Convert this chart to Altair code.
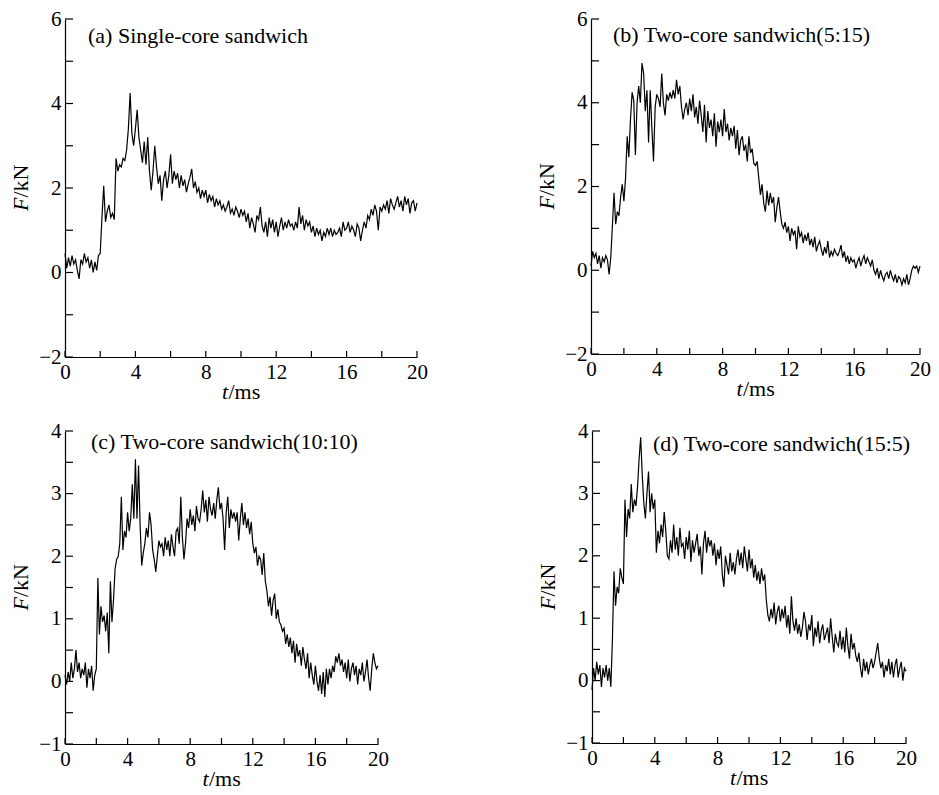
import altair as alt
import pandas as pd

SERIF = "Liberation Serif"
T_STEP = 0.1  # ms between samples

X_LABELS = [0, 4, 8, 12, 16, 20]
X_TICKS = [0, 2, 4, 6, 8, 10, 12, 14, 16, 18, 20]

TITLES = ["(a) Single-core sandwich", "(b) Two-core sandwich(5:15)",
          "(c) Two-core sandwich(10:10)", "(d) Two-core sandwich(15:5)"]

Y_LABELS_AB = [-2, 0, 2, 4, 6]
Y_TICKS_AB = [-2, -1, 0, 1, 2, 3, 4, 5, 6]
Y_LABELS_CD = [-1, 0, 1, 2, 3, 4]
Y_TICKS_CD = [-1, -0.5, 0, 0.5, 1, 1.5, 2, 2.5, 3, 3.5, 4]

# F (kN) sampled every 0.1 ms from t = 0 to 20 ms
F_A = [0.45, 0.1, 0.35, 0.15, 0.4, 0.2, 0.3, 0.05, -0.15, 0.3,
       0.2, 0.45, 0.25, 0.35, 0.1, 0.3, 0.0, 0.25, 0.05, 0.4,
       0.45, 1.3, 2.05, 1.2, 1.45, 1.6, 1.3, 1.4, 1.25, 2.7,
       2.4, 2.55, 2.5, 2.7, 2.65, 2.9, 3.4, 4.25, 3.3, 3.0,
       3.4, 3.85, 3.2, 2.9, 2.6, 3.1, 2.55, 3.2, 2.4, 1.95,
       2.4, 3.0, 2.5, 2.1, 2.3, 1.7, 2.2, 2.4, 2.0, 2.3,
       2.8, 2.1, 2.4, 2.2, 2.35, 2.0, 2.3, 2.05, 2.2, 1.9,
       2.1, 2.25, 2.45, 2.0, 2.15, 1.9, 2.0, 1.75, 1.95, 1.8,
       1.95, 1.65, 1.85, 1.7, 1.8, 1.55, 1.75, 1.6, 1.7, 1.5,
       1.6, 1.45, 1.55, 1.7, 1.4, 1.5, 1.35, 1.55, 1.45, 1.3,
       1.5, 1.35, 1.45, 1.2, 1.4, 1.05, 1.3, 1.15, 0.95, 1.35,
       1.25, 1.55, 1.1, 0.95, 1.2, 0.85, 1.3, 1.05, 1.25, 0.95,
       1.2, 0.85, 1.1, 1.3, 1.0, 1.2, 1.05, 1.25, 1.1, 1.15,
       1.0, 1.2, 1.05, 1.55, 1.15, 1.35, 1.0, 1.25, 1.1, 1.2,
       0.95, 1.1, 0.85, 1.05, 0.9, 1.0, 0.75, 0.95, 0.85, 1.05,
       0.9, 1.05, 0.85, 1.0, 0.9, 0.95, 1.05, 0.85, 1.2, 1.0,
       1.05, 1.2, 0.95, 1.1, 1.0, 0.85, 1.15, 1.05, 0.75, 1.0,
       1.2, 1.05, 1.35, 1.25, 1.5, 1.35, 1.6, 1.45, 1.0, 1.55,
       1.45, 1.6, 1.5, 1.7, 1.4, 1.75, 1.6, 1.5, 1.65, 1.8,
       1.55, 1.7, 1.45, 1.8, 1.6, 1.75, 1.4, 1.65, 1.7, 1.45,
       1.65]

F_B = [0.1, 0.45, 0.3, 0.4, 0.15, 0.35, 0.05, 0.3, 0.2, 0.35,
       0.25, -0.1, 0.3, 1.05, 1.85, 1.1, 1.4, 1.3, 1.75, 2.05,
       1.65, 2.2, 3.2, 2.7, 3.6, 4.25, 4.05, 2.75, 4.0, 4.4,
       4.0, 4.95, 4.7, 3.8, 4.3, 3.05, 4.3, 3.4, 2.6, 3.9,
       4.2, 4.1, 3.9, 4.7, 4.0, 3.7, 4.2, 4.05, 4.25, 4.1,
       4.3, 4.1, 4.55, 4.2, 4.4, 3.9, 3.6, 3.85, 4.0, 3.7,
       4.1, 3.8, 4.2, 3.65, 3.9, 3.5, 4.05, 3.7, 3.3, 3.95,
       3.05, 3.8, 3.4, 3.6, 3.2, 3.75, 2.95, 3.55, 3.3, 3.6,
       3.2, 3.85, 3.3, 3.5, 3.1, 3.4, 3.2, 3.45, 2.9, 3.35,
       2.75, 3.1, 3.2, 2.85, 3.0, 2.6, 3.2, 2.8, 2.9, 2.55,
       2.5, 2.6, 2.2, 1.8, 2.05, 1.6, 1.4, 1.9, 1.55, 1.85,
       1.6, 1.75, 1.15, 1.5, 1.75, 1.4, 1.1, 1.0, 1.15, 0.9,
       1.05, 0.7, 1.0, 0.85, 0.95, 0.5, 1.05, 0.8, 0.9, 0.65,
       0.85, 0.7, 0.9, 0.6, 0.75, 0.55, 0.8, 0.45, 0.6, 0.7,
       0.5, 0.35, 0.55, 0.4, 0.7, 0.3, 0.45, 0.35, 0.5, 0.4,
       0.35, 0.45, 0.6, 0.3, 0.45, 0.2, 0.35, 0.15, 0.3, 0.2,
       0.25, 0.05, 0.2, 0.3, 0.1, 0.25, 0.35, 0.15, 0.3, 0.2,
       0.1, 0.25, 0.0, -0.1, 0.05, -0.2, 0.0, -0.15, -0.25, -0.1,
       -0.05, -0.2, 0.0, -0.15, -0.25, -0.1, -0.3, -0.15, -0.2, -0.35,
       -0.2, -0.3, -0.1, -0.35, -0.2, 0.0, 0.1, 0.05, 0.1, -0.05,
       0.1]

F_C = [0.1, -0.05, 0.15, 0.0, 0.3, 0.05, 0.2, 0.5, 0.15, 0.3,
       0.05, 0.2, 0.1, 0.3, -0.1, 0.2, 0.05, 0.25, -0.15, 0.1,
       0.2, 1.65, 0.75, 1.2, 0.95, 1.05, 0.8, 1.1, 0.45, 1.6,
       0.95, 1.3, 1.8, 1.95, 2.0, 2.2, 2.95, 2.1, 2.4, 2.3,
       2.7, 2.4, 2.6, 3.15, 2.6, 3.55, 2.6, 3.45, 2.5, 1.85,
       2.05, 2.2, 2.45, 2.3, 2.7, 2.5, 2.1, 1.95, 1.75, 2.0,
       2.25, 2.15, 2.2, 2.0, 2.3, 2.1, 2.25, 2.0, 2.35, 2.15,
       2.0, 2.4, 2.45, 2.2, 2.95, 2.3, 1.95, 2.2, 2.6, 2.45,
       2.75, 2.5, 2.65, 2.4, 2.8, 2.6, 2.55, 2.75, 3.05, 2.7,
       2.9, 2.55, 2.95, 2.75, 2.65, 2.85, 2.6, 2.9, 3.1, 2.75,
       2.85, 2.6, 2.1, 2.7, 2.95, 2.45, 2.75, 2.6, 2.7, 2.55,
       2.7, 2.25, 2.6, 2.85, 2.5, 2.7, 2.45, 2.6, 2.35, 2.55,
       2.2, 2.05, 2.15, 1.85, 2.0, 1.95, 1.7, 2.05, 1.6, 1.45,
       1.2, 1.35, 1.05, 1.3, 1.4, 1.0, 1.15, 0.95, 0.9, 0.8,
       0.85, 0.6, 0.75, 0.55, 0.7, 0.45, 0.65, 0.3, 0.6, 0.4,
       0.5, 0.25, 0.55, 0.35, 0.2, 0.45, 0.05, 0.3, 0.1, -0.05,
       0.25, 0.0, -0.15, 0.1, -0.2, 0.15, -0.25, 0.2, -0.05, 0.2,
       0.05, 0.25, 0.15, 0.4, 0.3, 0.45, 0.25, 0.35, 0.15, 0.3,
       0.05, 0.35, 0.0, 0.2, 0.3, 0.1, 0.25, -0.05, 0.2, 0.1,
       0.3, 0.0, 0.15, 0.35, 0.05, -0.15, 0.2, 0.45, 0.3, 0.2,
       0.25]

F_D = [-0.15, 0.2, 0.0, 0.3, 0.1, 0.25, -0.1, 0.2, 0.05, 0.25,
       0.0, 0.2, -0.1, 0.65, 1.75, 1.2, 1.5, 1.4, 1.8, 1.65,
       1.55, 2.9, 2.3, 2.75, 2.6, 3.15, 2.7, 2.9, 2.8, 3.1,
       3.55, 3.9, 3.3, 2.85, 2.6, 3.0, 3.35, 2.7, 3.0, 2.75,
       2.9, 2.05, 2.4, 2.2, 2.5, 2.3, 2.7, 2.4, 2.0, 1.95,
       2.25, 2.05, 2.5, 2.1, 2.3, 2.0, 2.45, 2.15, 2.2, 1.95,
       2.3, 2.1, 2.4, 1.9, 2.25, 2.05, 2.2, 2.35, 2.0, 2.15,
       1.7, 2.2, 2.4, 2.05, 2.3, 2.15, 2.25, 2.0, 2.2, 1.85,
       2.1, 1.95, 2.15, 1.7, 1.5, 2.0, 1.85, 1.7, 2.05, 1.75,
       1.9, 1.7, 1.95, 2.1, 1.85, 2.05, 1.8, 2.15, 1.95, 1.75,
       2.1, 1.8, 1.95, 1.65, 1.85, 1.6, 1.75, 1.55, 1.8, 1.6,
       1.7, 1.3, 1.05, 0.95, 1.15, 1.0, 1.25, 0.9, 1.1, 1.2,
       0.95, 1.15, 1.0, 1.2, 0.85, 1.05, 0.75, 1.35, 0.95, 0.8,
       1.0, 0.75, 0.9, 0.7, 0.85, 1.1, 0.95, 0.65, 0.9, 0.8,
       1.05, 0.55, 0.85, 0.7, 0.95, 0.6, 0.8, 0.9, 0.65, 0.75,
       0.85, 0.6, 1.0, 0.7, 0.45, 0.75, 0.6, 0.55, 0.8, 0.5,
       0.7, 0.45, 0.85, 0.55, 0.35, 0.75, 0.5, 0.6, 0.4, 0.3,
       0.45, 0.2, 0.05, 0.35, 0.15, 0.3, 0.1, 0.25, 0.35, 0.2,
       0.3, 0.45, 0.6, 0.35, 0.2, 0.3, 0.05, 0.25, 0.15, 0.35,
       0.1, 0.3, 0.05, 0.25, 0.35, 0.05, 0.2, 0.3, 0.0, 0.2,
       0.15]

PANELS = [
    dict(vals=F_A, title=TITLES[0], ydom=[-2, 6], ylabels=Y_LABELS_AB, yticks=Y_TICKS_AB,
         w=352, h=338, tx=23, ty=17),
    dict(vals=F_B, title=TITLES[1], ydom=[-2, 6], ylabels=Y_LABELS_AB, yticks=Y_TICKS_AB,
         w=329, h=335, tx=22, ty=16),
    dict(vals=F_C, title=TITLES[2], ydom=[-1, 4], ylabels=Y_LABELS_CD, yticks=Y_TICKS_CD,
         w=313, h=313, tx=26, ty=11),
    dict(vals=F_D, title=TITLES[3], ydom=[-1, 4], ylabels=Y_LABELS_CD, yticks=Y_TICKS_CD,
         w=314, h=312, tx=61, ty=13),
]


def axis_style(values):
    return alt.Axis(values=values, ticks=False, grid=False, title=None,
                    labelFont=SERIF, labelFontSize=21, labelColor="black",
                    labelPadding=4, labelFlush=False, labelOverlap=False,
                    domainColor="black", domainWidth=1.2)


def text_layer(s, x, y, **kw):
    return alt.Chart(pd.DataFrame({"s": [s]})).mark_text(
        font=SERIF, fontSize=22, color="black", baseline="middle", **kw
    ).encode(x=alt.value(x), y=alt.value(y), text="s:N")


def make_panel(p):
    w, h = p["w"], p["h"]
    xs = alt.Scale(domain=[0, 20], nice=False, zero=False)
    ys = alt.Scale(domain=p["ydom"], nice=False, zero=False)
    x_axis = axis_style(X_LABELS)
    y_axis = axis_style(p["ylabels"])
    df = pd.DataFrame({"t": [round(i * T_STEP, 2) for i in range(len(p["vals"]))],
                       "F": p["vals"]})
    line = alt.Chart(df).mark_line(color="black", strokeWidth=1.2).encode(
        x=alt.X("t:Q", scale=xs, axis=x_axis),
        y=alt.Y("F:Q", scale=ys, axis=y_axis),
    )
    xt = alt.Chart(pd.DataFrame({"t": X_TICKS})).mark_rule(color="black", strokeWidth=1.2).encode(
        x=alt.X("t:Q", scale=xs, axis=x_axis), y=alt.value(h), y2=alt.value(h - 6))
    yt = alt.Chart(pd.DataFrame({"F": p["yticks"]})).mark_rule(color="black", strokeWidth=1.2).encode(
        y=alt.Y("F:Q", scale=ys, axis=y_axis), x=alt.value(0), x2=alt.value(8))
    title = text_layer(p["title"], p["tx"], p["ty"], align="left")
    f1 = text_layer("F", -44, h / 2 + 23, align="left", angle=270, fontStyle="italic")
    f2 = text_layer("/kN", -44, h / 2 + 9.5, align="left", angle=270)
    t1 = text_layer("t", w / 2 - 19, h + 35, align="left", fontStyle="italic")
    t2 = text_layer("/ms", w / 2 - 12.5, h + 35, align="left")
    return alt.layer(line, xt, yt, title, f1, f2, t1, t2).properties(width=w, height=h)


charts = [make_panel(p) for p in PANELS]
chart = alt.vconcat(
    alt.hconcat(charts[0], charts[1], spacing=108),
    alt.hconcat(charts[2], charts[3], spacing=148),
    spacing=17,
).properties(padding={"left": 2, "top": 0, "right": 0, "bottom": 0}).configure_view(stroke=None)

chart.save("out.html", embed_options={"renderer": "svg", "actions": False})
